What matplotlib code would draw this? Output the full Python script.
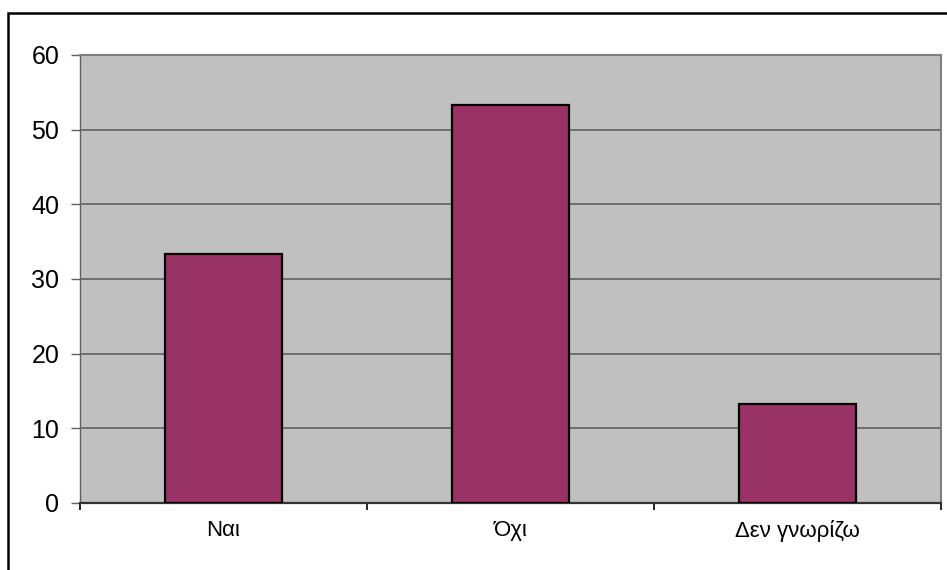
import matplotlib
matplotlib.use("Agg")
import matplotlib.pyplot as plt
from matplotlib.patches import Rectangle
from matplotlib.ticker import FixedLocator, NullFormatter

categories = ["Ναι", "Όχι", "Δεν γνωρίζω"]
values = [33.3, 53.3, 13.3]
y_ticks = [0, 10, 20, 30, 40, 50, 60]

plt.rcParams["font.family"] = ["Liberation Sans", "DejaVu Sans"]

W, H = 947, 570
fig = plt.figure(figsize=(W / 100, H / 100), dpi=100)
fig.patch.set_facecolor("white")

# outer chart frame (open to the right and bottom)
fig.patches.append(Rectangle((7.5 / W, -0.2), 1.5, 1 - 12.5 / H + 0.2,
                             transform=fig.transFigure, fill=False,
                             edgecolor="black", linewidth=1.8, zorder=0))

left, right, top, bottom = 80, 941, 55, 503
ax = fig.add_axes([left / W, 1 - bottom / H, (right - left) / W, (bottom - top) / H])
ax.set_facecolor("#C0C0C0")

x = list(range(len(categories)))
ax.bar(x, values, width=0.41, color="#993366", edgecolor="black",
       linewidth=1.6, zorder=3)

ax.set_xlim(-0.5, len(categories) - 0.5)
ax.set_ylim(0, 60)
ax.set_yticks(y_ticks)
ax.set_yticklabels([str(t) for t in y_ticks])
ax.yaxis.grid(True, color="#5a5a5a", linewidth=1.1, zorder=1)
ax.set_axisbelow(True)

# category ticks sit on the boundaries between groups
ax.xaxis.set_major_locator(FixedLocator([-0.5, 0.5, 1.5, 2.5]))
ax.xaxis.set_major_formatter(NullFormatter())
ax.xaxis.set_minor_locator(FixedLocator(x))
ax.set_xticklabels(categories, minor=True)
ax.tick_params(axis="x", which="major", length=5, width=1.2, color="black", direction="out")
ax.tick_params(axis="x", which="minor", length=0, pad=12.5, labelsize=16)
ax.tick_params(axis="y", length=6.5, width=1.0, color="#606060", pad=8.5, labelsize=18)

for side in ("top", "right"):
    ax.spines[side].set_color("#808080")
    ax.spines[side].set_linewidth(1.5)
ax.spines["left"].set_color("#606060")
ax.spines["left"].set_linewidth(1.0)
ax.spines["bottom"].set_color("#333333")
ax.spines["bottom"].set_linewidth(1.6)

fig.savefig("out.png", dpi=100)
